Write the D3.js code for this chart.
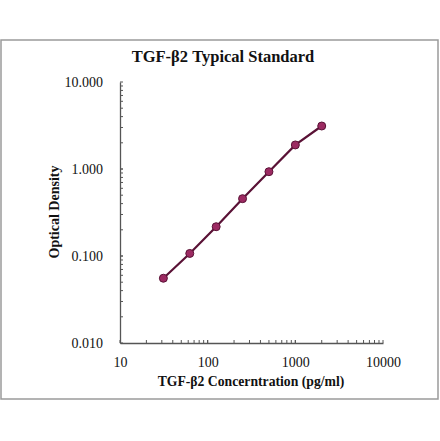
<!DOCTYPE html>
<html>
<head>
<meta charset="utf-8">
<script src="https://cdn.jsdelivr.net/npm/d3@7"></script>
<style>
  body { margin: 0; background: #fff; }
  svg text { font-family: "Liberation Serif", "DejaVu Serif", serif; fill: #111; }
</style>
</head>
<body>
<div class="chart"></div>
<script>
// standard curve values
const concentrations = [31.25, 62.5, 125, 250, 500, 1000, 2000];
const odValues = [0.0555, 0.107, 0.217, 0.456, 0.931, 1.89, 3.12];
const xTicks = [10, 100, 1000, 10000];
const yTicks = [0.01, 0.1, 1, 10];

const W = 440, H = 441;
const margins = { top: 82, right: 57, bottom: 98, left: 120 },
  width = 383 - margins.left,
  height = 343 - margins.top;

const svg = d3.select('.chart').append('svg')
  .attr('width', W).attr('height', H);

// outer frame
svg.append('rect')
  .attr('x', 1).attr('y', 40).attr('width', 437).attr('height', 359)
  .attr('fill', 'none').attr('stroke', '#9a9a9a').attr('stroke-width', 1.5);

svg.append('text')
  .attr('x', 223).attr('y', 62)
  .attr('text-anchor', 'middle')
  .style('font-size', '16.5px').style('font-weight', 'bold')
  .text('TGF-β2 Typical Standard');

const g = svg.append('g')
  .attr('transform', 'translate(' + margins.left + ',' + margins.top + ')');

const x = d3.scaleLog().domain([10, 10000]).range([0, width]);
const y = d3.scaleLog().domain([0.01, 10]).range([height, 0]);

// minor ticks, pointing into the plot
const xMinor = [];
const yMinor = [];
for (let d = 10; d < 10000; d *= 10) for (let k = 1; k <= 10; k++) xMinor.push(d * k);
for (let d = 0.01; d < 9; d *= 10) for (let k = 1; k <= 10; k++) yMinor.push(+(d * k).toPrecision(3));

g.append('g').selectAll('line').data(xMinor).enter().append('line')
  .attr('x1', d => x(d)).attr('x2', d => x(d))
  .attr('y1', height).attr('y2', height - 3)
  .attr('stroke', '#555');
g.append('g').selectAll('line').data(yMinor).enter().append('line')
  .attr('y1', d => y(d)).attr('y2', d => y(d))
  .attr('x1', 0).attr('x2', 3)
  .attr('stroke', '#555');

const xAxis = d3.axisBottom(x).tickValues(xTicks).tickFormat(d3.format('d')).tickSize(0).tickPadding(14);
const yAxis = d3.axisLeft(y).tickValues(yTicks).tickFormat(d3.format('.3f')).tickSize(0).tickPadding(17);

g.append('g').attr('class', 'x axis')
  .attr('transform', 'translate(0,' + height + ')')
  .call(xAxis)
  .call(s => s.select('.domain').attr('stroke', '#555').attr('stroke-width', 1.3))
  .selectAll('text').style('font-size', '14px').style('font-family', '"Liberation Serif", serif');

g.append('g').attr('class', 'y axis')
  .call(yAxis)
  .call(s => s.select('.domain').attr('stroke', '#555').attr('stroke-width', 1.3))
  .selectAll('text').style('font-size', '14px').style('font-family', '"Liberation Serif", serif');

svg.append('text')
  .attr('x', 251).attr('y', 386)
  .attr('text-anchor', 'middle')
  .style('font-size', '13.7px').style('font-weight', 'bold')
  .text('TGF-β2 Concerntration (pg/ml)');

svg.append('text')
  .attr('transform', 'translate(59,212) rotate(-90)')
  .attr('text-anchor', 'middle')
  .style('font-size', '14px').style('font-weight', 'bold')
  .text('Optical Density');

// curve
const pts = concentrations.map((c, i) => ({ c, od: odValues[i] }));
g.append('path')
  .datum(pts)
  .attr('fill', 'none')
  .attr('stroke', '#5a1236')
  .attr('stroke-width', 2.2)
  .attr('d', d3.line().x(d => x(d.c)).y(d => y(d.od)));

g.selectAll('.pt').data(pts).enter().append('circle')
  .attr('class', 'pt')
  .attr('cx', d => x(d.c)).attr('cy', d => y(d.od))
  .attr('r', 4)
  .attr('fill', '#9c2a62')
  .attr('stroke', '#5a1236')
  .attr('stroke-width', 1);
</script>
</body>
</html>
